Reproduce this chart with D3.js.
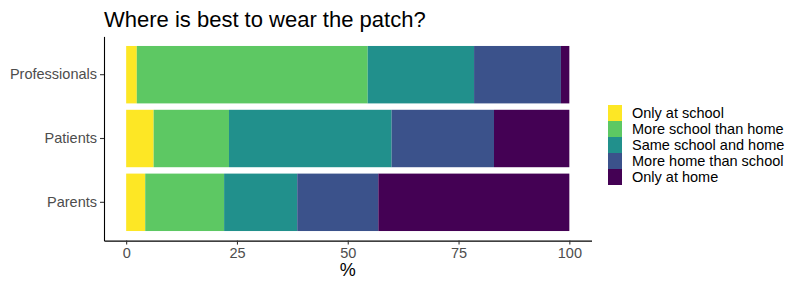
<!DOCTYPE html>
<html>
<head>
<meta charset="utf-8">
<script src="https://cdn.jsdelivr.net/npm/d3@7"></script>
<style>
  body { margin: 0; background: #fff; }
  text { font-family: "Liberation Sans", Arial, sans-serif; }
</style>
</head>
<body>
<div id="chart"></div>
<script>
const width = 800;
const height = 287;

// data (percent of respondents)
const groups = ["Professionals", "Patients", "Parents"];
const answers = ["Only at school", "More school than home", "Same school and home", "More home than school", "Only at home"];
const colours = ["#FDE725", "#5DC863", "#21908C", "#3B528B", "#440154"];
const professionals = [2.4, 52.1, 24.0, 19.6, 1.9];
const patients = [6.2, 17.0, 36.7, 23.1, 17.0];
const parents = [4.3, 17.8, 16.5, 18.3, 43.1];
const xTicks = [0, 25, 50, 75, 100];

const values = { Professionals: professionals, Patients: patients, Parents: parents };

const rows = groups.map(g => {
    const r = { group: g };
    answers.forEach((a, i) => r[a] = values[g][i]);
    return r;
});

const stacked = d3.stack().keys(answers)(rows);

const svg = d3.select("#chart")
    .append("svg")
    .attr("width", width)
    .attr("height", height);

const x = d3.scaleLinear()
    .domain([-5, 105])
    .range([104, 591.5]);

// ggplot style: 0.6 step of expansion round the outer categories, bars 0.9 wide
const y = d3.scaleBand()
    .domain(groups)
    .range([36.4, 240.6])
    .paddingInner(0.1)
    .paddingOuter(0.15);

// bars
svg.append("g")
    .selectAll("g")
    .data(stacked)
    .join("g")
    .attr("fill", (d, i) => colours[i])
    .selectAll("rect")
    .data(d => d)
    .join("rect")
    .attr("x", d => x(d[0]))
    .attr("width", d => x(d[1]) - x(d[0]))
    .attr("y", d => y(d.data.group))
    .attr("height", y.bandwidth());

// axes
const xAxis = svg.append("g")
    .attr("transform", `translate(0,${240.6})`)
    .call(d3.axisBottom(x).tickValues(xTicks).tickSize(4).tickPadding(3).tickSizeOuter(0));
const yAxis = svg.append("g")
    .attr("transform", `translate(${104},0)`)
    .call(d3.axisLeft(y).tickSize(4).tickPadding(3).tickSizeOuter(0));

[xAxis, yAxis].forEach(a => {
    a.select(".domain").attr("stroke", "#000").attr("stroke-width", 1.1);
    a.selectAll(".tick line").attr("stroke", "#333").attr("stroke-width", 1.1);
    a.selectAll(".tick text")
        .attr("fill", "#4d4d4d")
        .style("font-size", "14.5px")
        .style("font-family", "'Liberation Sans', Arial, sans-serif");
});

// titles
svg.append("text")
    .attr("x", 104)
    .attr("y", 27)
    .style("font-size", "22px")
    .attr("fill", "#000")
    .text("Where is best to wear the patch?");

svg.append("text")
    .attr("x", x(50))
    .attr("y", 276)
    .attr("text-anchor", "middle")
    .style("font-size", "18px")
    .attr("fill", "#000")
    .text("%");

// legend
const legend = svg.append("g")
    .attr("transform", "translate(608,105)");
const item = legend.selectAll("g")
    .data(answers)
    .join("g")
    .attr("transform", (d, i) => `translate(0,${i * 16})`);
item.append("rect")
    .attr("width", 14)
    .attr("height", 16)
    .attr("fill", (d, i) => colours[i]);
item.append("text")
    .attr("x", 24)
    .attr("y", 8)
    .attr("dy", "0.35em")
    .style("font-size", "14.5px")
    .attr("fill", "#000")
    .text(d => d);
</script>
</body>
</html>
